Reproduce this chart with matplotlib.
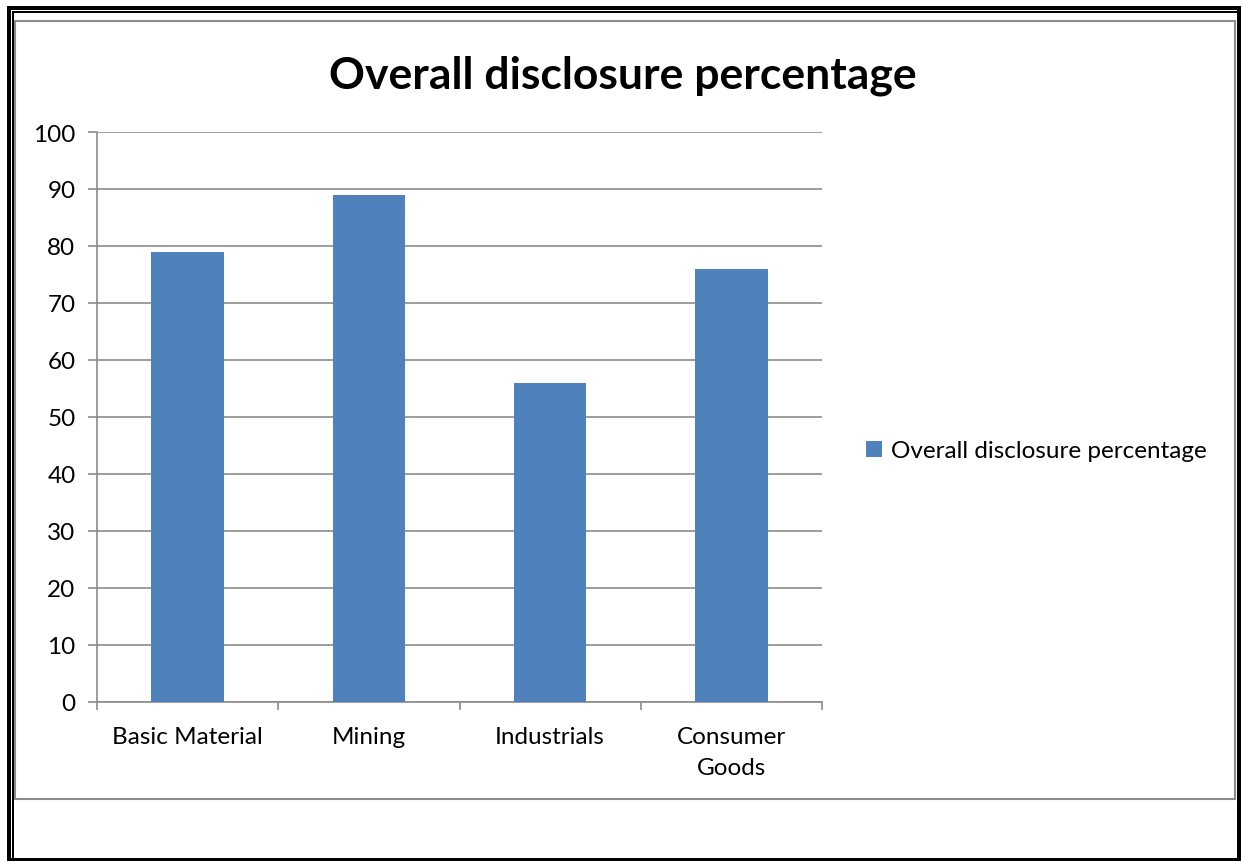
import matplotlib
matplotlib.use("Agg")
import matplotlib.pyplot as plt
from matplotlib.patches import Rectangle
from matplotlib.lines import Line2D

categories = ["Basic Material", "Mining", "Industrials", "Consumer\nGoods"]
values = [79, 89, 56, 76]
series_name = "Overall disclosure percentage"
title = "Overall disclosure percentage"
yticks = [0, 10, 20, 30, 40, 50, 60, 70, 80, 90, 100]

W, H = 1242, 862
plt.rcParams['font.family'] = ['Lato', 'DejaVu Sans']
fig = plt.figure(figsize=(W / 100, H / 100), dpi=100)

def fx(x):
    return x / W

def fy(y):
    return 1 - y / H

def hline(x0, x1, y, lw, color):
    fig.add_artist(Line2D([fx(x0), fx(x1)], [fy(y), fy(y)], lw=lw, color=color,
                          transform=fig.transFigure, solid_capstyle='butt'))

def vline(x, y0, y1, lw, color):
    fig.add_artist(Line2D([fx(x), fx(x)], [fy(y0), fy(y1)], lw=lw, color=color,
                          transform=fig.transFigure, solid_capstyle='butt'))

thick = 4 * 72 / 100
thin = 2 * 72 / 100
hline(7, 1241, 9, thick, 'black')
vline(9, 7, 862, thick, 'black')
vline(1239, 7, 862, thick, 'black')
hline(7, 1241, 860.5, thick, 'black')
hline(12, 1237, 13, thin, 'black')
vline(13, 12, 862, thin, 'black')

# chart area border (gray)
fig.add_artist(Rectangle((fx(14.5), fy(800)), fx(1234.5) - fx(14.5), fy(21.5) - fy(800),
                         transform=fig.transFigure, fill=False, edgecolor='#8c8c8c', lw=1.5))

ax = fig.add_axes([fx(97), fy(703), fx(822) - fx(97), fy(133) - fy(703)])
x = list(range(len(categories)))
bars = ax.bar(x, values, width=0.4, color='#4F81BD', label=series_name, zorder=3)
ax.set_xlim(-0.5, len(categories) - 0.5)
ax.set_ylim(0, 100)
ax.set_yticks(yticks)
ax.set_yticklabels([str(v) for v in yticks], fontsize=17.5)
ax.yaxis.grid(True, color='#8c8c8c', lw=1.2, zorder=0)
ax.set_xticks(x)
ax.set_xticklabels(categories, fontsize=17.5, linespacing=1.6)
ax.tick_params(axis='x', length=0, pad=17)
ax.tick_params(axis='y', length=6.5, color='#8c8c8c', width=1.2, pad=9)
ax.set_xticks([i - 0.5 for i in range(len(categories) + 1)], minor=True)
ax.tick_params(axis='x', which='minor', length=6, color='#8c8c8c', width=1.2)
for s in ['top', 'right']:
    ax.spines[s].set_visible(False)
for s in ['left', 'bottom']:
    ax.spines[s].set_color('#8c8c8c')
    ax.spines[s].set_linewidth(1.2)

fig.text(fx(623), fy(76), title, ha='center', va='center', fontsize=32, fontweight='bold')

leg = fig.legend(handles=[bars], labels=[series_name], loc='center left',
                 bbox_to_anchor=(fx(844), fy(452)), frameon=False, fontsize=17.5,
                 handlelength=0.65, handleheight=0.65, handletextpad=0.4)

fig.savefig("out.png", dpi=100)
